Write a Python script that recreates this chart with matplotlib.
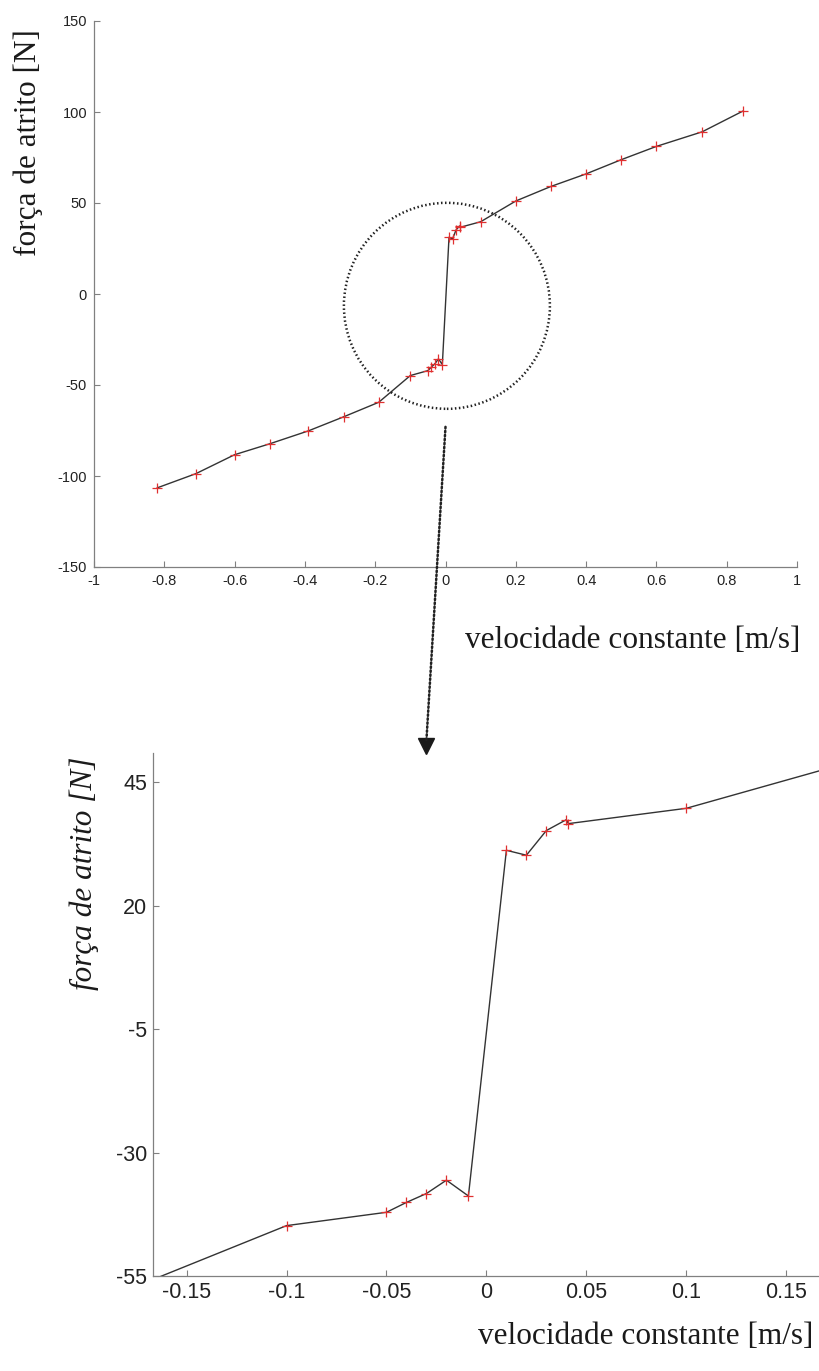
import matplotlib
matplotlib.use("Agg")
import matplotlib.pyplot as plt
from matplotlib.patches import Ellipse, ConnectionPatch

plt.rcParams["axes.unicode_minus"] = False

# friction force measured at constant velocity
velocity = [-0.82, -0.71, -0.60, -0.50, -0.39, -0.29, -0.19, -0.10,
            -0.05, -0.04, -0.03, -0.02, -0.009,
            0.01, 0.02, 0.03, 0.04, 0.041,
            0.10, 0.20, 0.30, 0.40, 0.50, 0.60, 0.73, 0.845]
force = [-106.5, -98.7, -88.3, -82.3, -75.2, -67.5, -59.5, -44.8,
         -42.1, -40.1, -38.3, -35.6, -38.8,
         31.2, 30.2, 35.2, 37.4, 36.6,
         39.7, 51.1, 59.1, 66.0, 73.8, 81.1, 89.1, 100.4]

full_xticks = [-1, -0.8, -0.6, -0.4, -0.2, 0, 0.2, 0.4, 0.6, 0.8, 1]
full_xlabels = ["-1", "-0.8", "-0.6", "-0.4", "-0.2", "0", "0.2", "0.4", "0.6", "0.8", "1"]
full_yticks = [-150, -100, -50, 0, 50, 100, 150]
zoom_xticks = [-0.15, -0.1, -0.05, 0, 0.05, 0.1, 0.15]
zoom_xlabels = ["-0.15", "-0.1", "-0.05", "0", "0.05", "0.1", "0.15"]
zoom_yticks = [-55, -30, -5, 20, 45]

W, H = 819, 1371
SANS = "Liberation Sans"
SERIF = "Liberation Serif"
LINE = "#333333"
SPINE = "#808080"

fig = plt.figure(figsize=(W / 100, H / 100), dpi=100)


def style_axes(ax, size, pad):
    for side in ("top", "right"):
        ax.spines[side].set_visible(False)
    for side in ("left", "bottom"):
        ax.spines[side].set_color(SPINE)
        ax.spines[side].set_linewidth(0.9)
    ax.tick_params(direction="in", length=4, width=0.8, color=SPINE,
                   labelsize=size, pad=pad)
    for lab in ax.get_xticklabels() + ax.get_yticklabels():
        lab.set_fontfamily(SANS)
        lab.set_color("#222222")


# full range
ax1 = fig.add_axes([94 / W, 1 - 567 / H, (797 - 94) / W, (567 - 21) / H])
ax1.plot(velocity, force, color=LINE, lw=1.0, zorder=2)
ax1.plot(velocity, force, ls="none", marker="+", color="#e03030",
         ms=7, mew=0.9, zorder=3)
ax1.set_xlim(-1, 1)
ax1.set_ylim(-150, 150)
ax1.set_xticks(full_xticks, full_xlabels)
ax1.set_yticks(full_yticks)
style_axes(ax1, 10.5, 5)

# dotted circle around the jump near v = 0 (round in pixels)
px_x = ax1.bbox.width / 2.0
px_y = ax1.bbox.height / 300.0
r_px = 103
ax1.add_patch(Ellipse((0.004, -6.5), 2 * r_px / px_x, 2 * r_px / px_y,
                      fill=False, ec="#222222", lw=1.8, ls=(0, (0.6, 1.0)),
                      zorder=4))

# zoom around v = 0
ax2 = fig.add_axes([153 / W, 1 - 1276 / H, (W - 153) / W, (1276 - 753) / H])
ax2.plot(velocity, force, color=LINE, lw=1.0, zorder=2)
ax2.plot(velocity, force, ls="none", marker="+", color="#e03030",
         ms=7, mew=0.9, zorder=3)
ax2.set_xlim(-0.1668, 0.1664)
ax2.set_ylim(-55, 50.9)
ax2.set_xticks(zoom_xticks, zoom_xlabels)
ax2.set_yticks(zoom_yticks)
style_axes(ax2, 15.5, 4)

# dotted arrow from the circle down to the zoomed axes
con = ConnectionPatch(xyA=(0.0, -73), coordsA=ax1.transData,
                      xyB=(-0.030, 53.5), coordsB=ax2.transData,
                      color="#222222", lw=1.8, ls=(0, (0.6, 1.0)))
fig.add_artist(con)
ax2.plot([-0.030], [52.4], marker="v", ms=11, color="#1a1a1a",
         clip_on=False, zorder=5)

# axis titles
fig.text(800 / W, 1 - 641 / H, "velocidade constante [m/s]", family=SERIF,
         fontsize=22.5, ha="right", va="center", color="#1a1a1a")
fig.text(28 / W, 1 - 143 / H, "força de atrito [N]", family=SERIF,
         fontsize=22.5, rotation=90, ha="center", va="center", color="#1a1a1a")
fig.text(813 / W, 1 - 1336 / H, "velocidade constante [m/s]", family=SERIF,
         fontsize=22.5, ha="right", va="center", color="#1a1a1a")
fig.text(84 / W, 1 - 873 / H, "força de atrito [N]", family=SERIF,
         style="italic", fontsize=22.5, rotation=90, ha="center", va="center",
         color="#1a1a1a")

fig.savefig("out.png", dpi=100, facecolor="white")
